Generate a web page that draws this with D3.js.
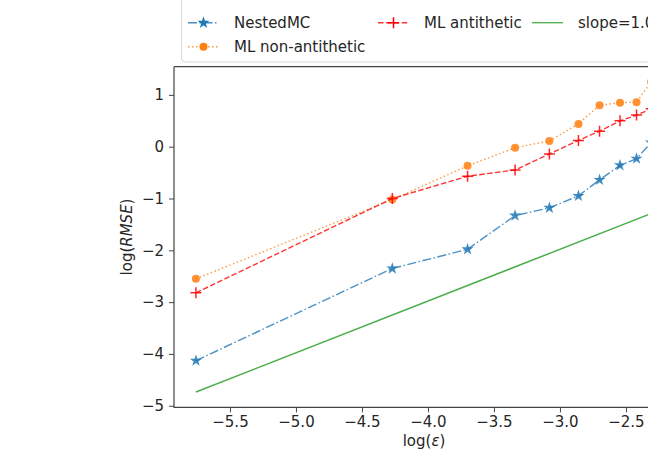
<!DOCTYPE html>
<html>
<head>
<meta charset="utf-8">
<script src="https://cdn.jsdelivr.net/npm/d3@7"></script>
<style>
  body { margin: 0; background: #fff; }
  svg { font-family: "DejaVu Sans", sans-serif; }
</style>
</head>
<body>
<div id="vis"></div>
<script>
// data
const LOG_EPS = [-5.758, -4.27, -3.70, -3.34, -3.08, -2.86, -2.70, -2.545, -2.42, -2.309];
const NESTED_MC = [-4.13, -2.35, -1.98, -1.33, -1.18, -0.95, -0.64, -0.36, -0.23, 0.08];
const ML_NON_ANTI = [-2.55, -1.02, -0.37, -0.02, 0.11, 0.44, 0.80, 0.85, 0.86, 1.25];
const ML_ANTI = [-2.82, -1.00, -0.57, -0.45, -0.14, 0.12, 0.30, 0.50, 0.61, 0.73];
const SLOPE_X = [-5.758, -2.309];
const SLOPE_Y = [-4.736, -1.29];
const X_TICKS = [-5.5, -5.0, -4.5, -4.0, -3.5, -3.0, -2.5];
const Y_TICKS = [1, 0, -1, -2, -3, -4, -5];
const LABELS = ["NestedMC", "ML non-antithetic", "ML antithetic", "slope=1.0"];

//frame
const FRAME_WIDTH = 648;
const FRAME_HEIGHT = 460;
const PLOT = {left: 174, right: 674, top: 66.7, bottom: 407.3};
const FS = 15;

const svg = d3.select("#vis")
              .append("svg")
              .attr("width", FRAME_WIDTH)
              .attr("height", FRAME_HEIGHT);

const X_SCALE = d3.scaleLinear()
                  .domain([-5.924, -2.136])
                  .range([PLOT.left, PLOT.right]);
const Y_SCALE = d3.scaleLinear()
                  .domain([-5.03, 1.544])
                  .range([PLOT.bottom, PLOT.top]);

svg.append("clipPath").attr("id", "clip")
   .append("rect")
   .attr("x", PLOT.left).attr("y", PLOT.top)
   .attr("width", PLOT.right - PLOT.left)
   .attr("height", PLOT.bottom - PLOT.top);

// axes
const xAxis = svg.append("g")
   .attr("transform", "translate(0," + PLOT.bottom + ")")
   .call(d3.axisBottom(X_SCALE).tickValues(X_TICKS).tickSizeOuter(0)
           .tickSize(5).tickPadding(4)
           .tickFormat(d => d3.format(".1f")(d).replace("-", "\u2212")));
const yAxis = svg.append("g")
   .attr("transform", "translate(" + PLOT.left + ",0)")
   .call(d3.axisLeft(Y_SCALE).tickValues(Y_TICKS).tickSizeOuter(0)
           .tickSize(5).tickPadding(5)
           .tickFormat(d => String(d).replace("-", "\u2212")));
[xAxis, yAxis].forEach(a => {
  a.attr("font-size", FS + "px").attr("font-family", "DejaVu Sans");
  a.selectAll("text").attr("fill", "#262626");
  a.selectAll("line").attr("stroke", "#444").attr("stroke-width", 1);
  a.select(".domain").remove();
});

// spines
svg.append("path")
   .attr("d", "M" + PLOT.left + "," + PLOT.top + "V" + PLOT.bottom + "H" + PLOT.right)
   .attr("fill", "none").attr("stroke", "#444").attr("stroke-width", 1.2);
svg.append("line")
   .attr("x1", PLOT.left).attr("x2", PLOT.right)
   .attr("y1", PLOT.top).attr("y2", PLOT.top)
   .attr("stroke", "#444").attr("stroke-width", 1.2);

// axis labels
svg.append("text")
   .attr("x", (PLOT.left + PLOT.right) / 2).attr("y", 446)
   .attr("text-anchor", "middle").attr("font-size", FS + "px").attr("fill", "#262626")
   .html('log(<tspan font-style="italic">\u03B5</tspan>)');
svg.append("text")
   .attr("transform", "translate(132," + ((PLOT.top + PLOT.bottom) / 2) + ") rotate(-90)")
   .attr("text-anchor", "middle").attr("font-size", FS + "px").attr("fill", "#262626")
   .html('log(<tspan font-style="italic">RMSE</tspan>)');

// series
const SERIES = [
  {name: LABELS[0], y: NESTED_MC, color: "#1f77b4", dash: "9,2.5,1.5,2.5", marker: "star"},
  {name: LABELS[1], y: ML_NON_ANTI, color: "#ff7f0e", dash: "1.5,2.5", marker: "circle"},
  {name: LABELS[2], y: ML_ANTI, color: "#ff0000", dash: "5.5,2.4", marker: "plus"},
];

const plotG = svg.append("g").attr("clip-path", "url(#clip)");
const line = d3.line().x(d => X_SCALE(d[0])).y(d => Y_SCALE(d[1]));

function drawMarker(g, type, color) {
  if (type === "star") {
    g.append("path").attr("d", d3.symbol(d3.symbolStar, 46)())
     .attr("fill", color);
  } else if (type === "circle") {
    g.append("circle").attr("r", 4).attr("fill", color);
  } else if (type === "plus") {
    g.append("path").attr("d", "M-5.5,0H5.5M0,-5.5V5.5")
     .attr("stroke", color).attr("stroke-width", 1.5);
  }
}

// slope line
plotG.append("path")
     .datum(d3.zip(SLOPE_X, SLOPE_Y))
     .attr("d", line)
     .attr("fill", "none").attr("stroke", "#2ca02c").attr("stroke-width", 1.5)
     .attr("opacity", 0.85);

SERIES.forEach(s => {
  const pts = d3.zip(LOG_EPS, s.y);
  plotG.append("path")
       .datum(pts)
       .attr("d", line)
       .attr("fill", "none").attr("stroke", s.color).attr("stroke-width", 1.4)
       .attr("stroke-dasharray", s.dash).attr("opacity", 0.8);
  pts.forEach(p => {
    const g = plotG.append("g")
       .attr("transform", "translate(" + X_SCALE(p[0]) + "," + Y_SCALE(p[1]) + ")")
       .attr("opacity", 0.85);
    drawMarker(g, s.marker, s.color);
  });
});

// legend
const legend = svg.append("g");
legend.append("rect")
      .attr("x", 181.5).attr("y", -3).attr("width", 520).attr("height", 65)
      .attr("rx", 4).attr("fill", "#fff").attr("fill-opacity", 0.8)
      .attr("stroke", "#d6d6d6").attr("stroke-width", 1);

const LEG = [
  {x: 188, y: 22.7, s: SERIES[0]},
  {x: 188, y: 46.7, s: SERIES[1]},
  {x: 378, y: 22.7, s: SERIES[2]},
  {x: 532, y: 22.7, s: {name: LABELS[3], color: "#2ca02c", dash: null, marker: null}},
];
LEG.forEach(e => {
  legend.append("line")
        .attr("x1", e.x).attr("x2", e.x + 31)
        .attr("y1", e.y).attr("y2", e.y)
        .attr("stroke", e.s.color).attr("stroke-width", 1.4)
        .attr("stroke-dasharray", e.s.dash).attr("opacity", 0.8);
  if (e.s.marker) {
    const g = legend.append("g")
       .attr("transform", "translate(" + (e.x + 15.5) + "," + e.y + ")");
    drawMarker(g, e.s.marker, e.s.color);
  }
  legend.append("text")
        .attr("x", e.x + 46).attr("y", e.y).attr("dy", "0.35em")
        .attr("font-size", FS + "px").attr("fill", "#262626")
        .text(e.s.name);
});
</script>
</body>
</html>
